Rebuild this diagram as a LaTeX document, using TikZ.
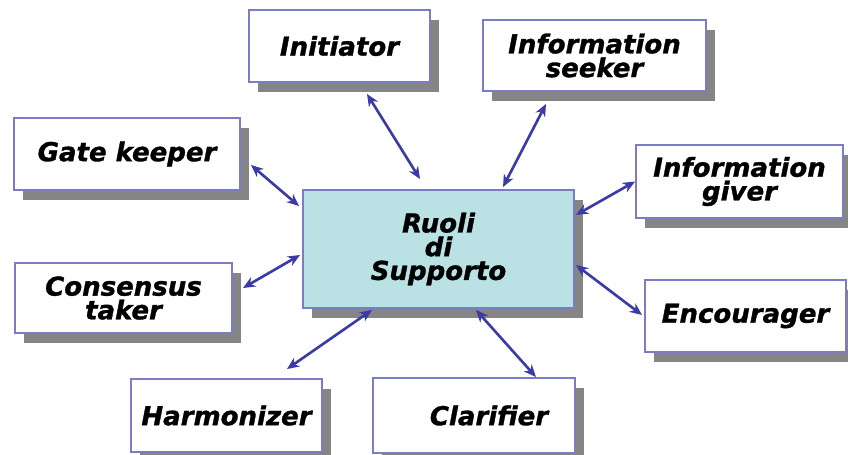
\documentclass[tikz,border=0pt]{standalone}
\usepackage{fontspec}
\setmainfont{DejaVu Sans}[BoldItalicFeatures={FakeBold=1.2}]
\usetikzlibrary{arrows.meta,shadows}

\definecolor{boxline}{HTML}{7C7CC6}
\definecolor{arrowblue}{HTML}{3A3AA8}
\definecolor{centrefill}{HTML}{BAE1E4}
\definecolor{shadowgrey}{HTML}{858585}

\tikzset{
  role/.style={draw=boxline, line width=1.1pt, fill=white, align=center,
    font=\fontsize{14.8}{13.5}\selectfont\bfseries\itshape,
    inner sep=0pt,
    drop shadow={shadow xshift=0.18cm, shadow yshift=-0.2cm, fill=shadowgrey, opacity=1}},
  link/.style={arrowblue, line width=1.5pt, {Stealth[length=7pt,width=6pt]}-{Stealth[length=7pt,width=6pt]}}
}

\begin{document}
\begin{tikzpicture}

    \useasboundingbox (0,0) rectangle (16.96,-9.10);

    \node[role, fill=centrefill, minimum width=5.42cm, minimum height=2.36cm] (ctr) at (8.77,-4.98) {Ruoli\\di\\Supporto};

    \node[role, minimum width=3.62cm, minimum height=1.44cm] (init) at (6.79,-0.92) {Initiator};
    \node[role, minimum width=4.46cm, minimum height=1.42cm] (seek) at (11.89,-1.11) {Information\\seeker};
    \node[role, minimum width=4.52cm, minimum height=1.44cm] (gate) at (2.54,-3.08) {Gate keeper};
    \node[role, minimum width=4.34cm, minimum height=1.40cm] (cons) at (2.47,-5.96) {Consensus\\taker};
    \node[role, minimum width=4.14cm, minimum height=1.46cm] (give) at (14.79,-3.63) {Information\\giver};
    \node[role, minimum width=4.02cm, minimum height=1.44cm] (enc) at (14.91,-6.32) {Encourager};
    \node[role, minimum width=3.82cm, minimum height=1.46cm] (harm) at (4.53,-8.31) {Harmonizer};
    \node[role, minimum width=4.04cm, minimum height=1.50cm] (clar) at (9.48,-8.31) {\hspace*{0.6cm}Clarifier};

    \draw[link] ([shift={(0.55,-0.22)}]init.south) -- ([shift={(-0.37,0.20)}]ctr.north);
    \draw[link] ([shift={(-0.97,-0.24)}]seek.south) -- ([shift={(1.29,0.04)}]ctr.north);
    \draw[link] ([shift={(0.20,-0.22)}]gate.east) -- ([shift={(-0.06,-0.34)}]ctr.north west);
    \draw[link] ([shift={(0.20,0.20)}]cons.east) -- ([shift={(-0.04,-0.12)}]ctr.west);
    \draw[link] (give.west) -- ([shift={(0.02,0.68)}]ctr.east);
    \draw[link] ([shift={(-0.04,0.02)}]enc.west) -- ([shift={(0.02,-0.32)}]ctr.east);
    \draw[link] ([shift={(1.21,0.18)}]harm.north) -- ([shift={(-1.33,-0.02)}]ctr.south);
    \draw[link] ([shift={(1.24,0)}]clar.north) -- ([shift={(0.75,-0.02)}]ctr.south);

\end{tikzpicture}
\end{document}
